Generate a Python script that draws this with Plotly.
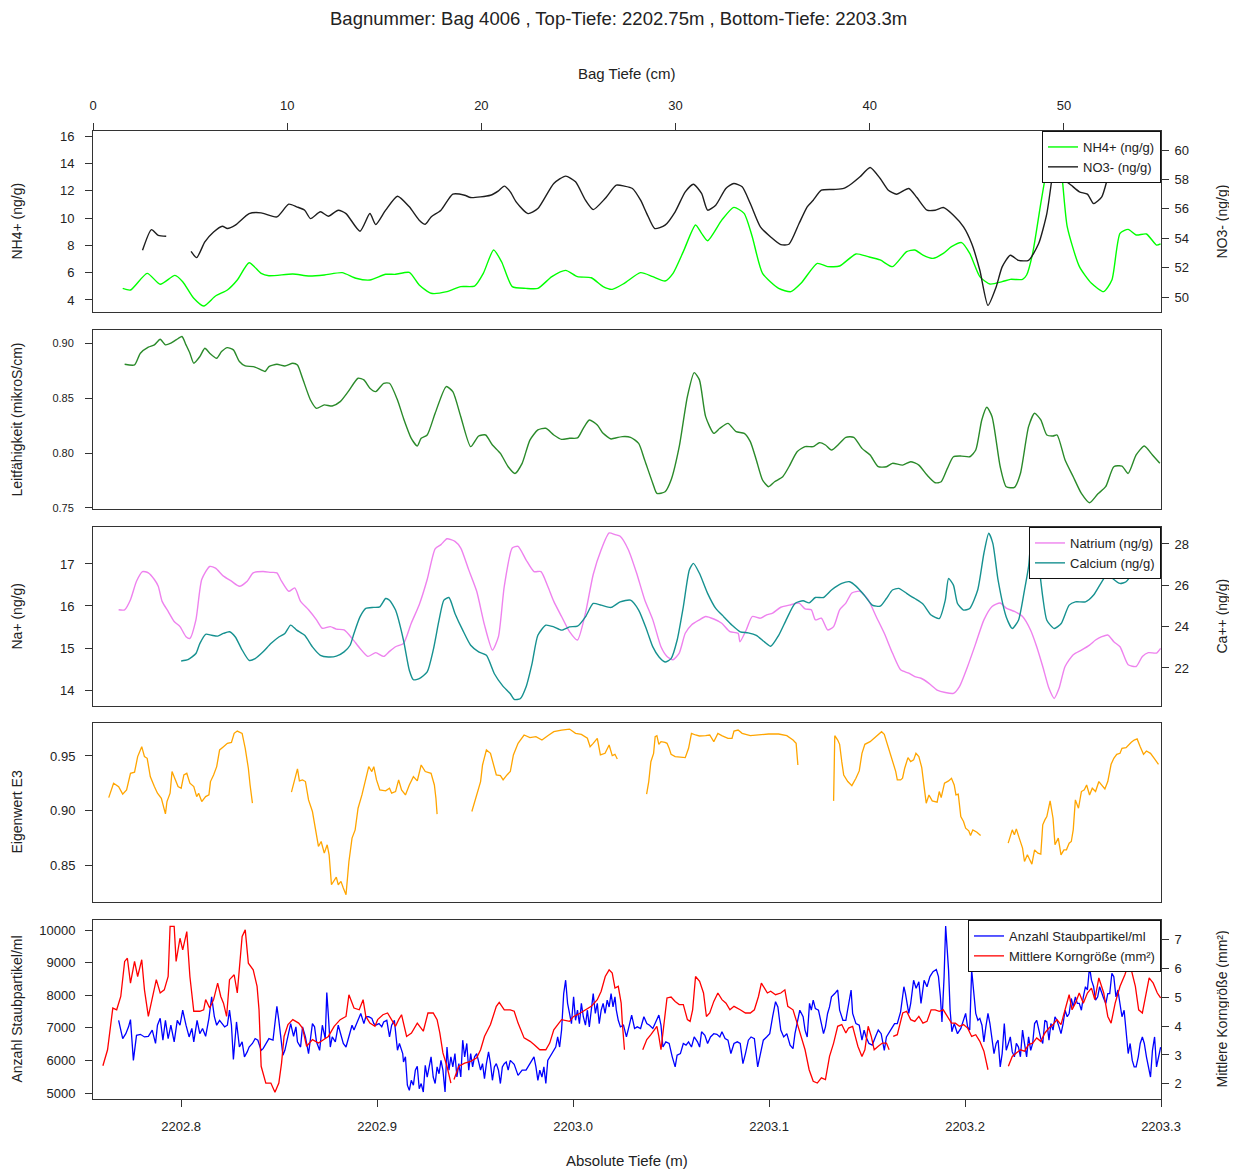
import plotly.graph_objects as go

# Bag 4006 – alle Messreihen ueber Bag-Tiefe (cm)

nh4_cm = [1.53, 1.93, 2.79, 3.46, 4.22, 4.62, 5.19, 5.70, 6.31, 6.92, 7.43, 8.04, 8.66, 9.06, 10.29, 11.10,
          11.91, 12.83, 13.54, 14.26, 15.07, 15.58, 16.29, 16.80, 17.41, 18.23, 18.94, 19.65, 20.10, 20.63,
          21.04, 21.59, 22.30, 22.91, 23.63, 24.34, 24.95, 25.66, 26.27, 26.74, 27.36, 28.20, 28.83, 29.46,
          29.87, 30.40, 31.03, 31.34, 31.65, 32.38, 33.00, 33.53, 33.95, 34.48, 35.31, 35.94, 36.46, 37.30,
          37.83, 38.45, 39.29, 39.92, 40.54, 41.17, 41.90, 42.32, 42.74, 43.26, 43.79, 44.21, 44.73, 45.15,
          45.67, 46.19, 46.82, 47.24, 47.87, 48.08, 48.39, 48.81, 49.12, 49.44, 49.65, 49.86, 50.17, 50.80,
          51.42, 52.05, 52.47, 52.89, 53.31, 53.72, 54.25, 54.77, 54.98]
nh4 = [4.85, 4.73, 5.95, 5.15, 5.80, 5.34, 4.12, 3.56, 4.29, 4.73, 5.46, 6.73, 5.95, 5.78, 5.90, 5.76,
       5.83, 6.00, 5.59, 5.46, 5.88, 5.88, 6.02, 5.10, 4.49, 4.61, 4.98, 5.02, 5.95, 7.66,
       6.80, 4.98, 4.85, 4.85, 5.71, 6.17, 5.71, 5.63, 4.98, 4.78, 5.22, 6.00, 5.71, 5.39,
       5.95, 7.54, 9.49, 8.88, 8.34, 9.85, 10.78, 10.34, 8.63, 5.95, 4.85, 4.61, 5.22, 6.68,
       6.44, 6.49, 7.37, 7.17, 6.93, 6.44, 7.54, 7.66, 7.29, 7.05, 7.41, 7.90, 8.20, 7.41,
       5.71, 5.17, 5.34, 5.51, 5.51, 5.83, 7.41, 11.07, 13.51, 14.70, 14.50, 13.50, 9.37, 6.44,
       5.22, 4.61, 5.46, 8.88, 9.17, 8.76, 8.83, 8.02, 8.10]

no3_cm = [2.55, 3.01, 3.36, 3.77, None,
          5.05, 5.34, 5.76, 6.21, 6.66, 6.92, 7.33, 8.04, 8.66, 9.47, 10.08, 10.49, 10.90, 11.20, 11.71,
          12.12, 12.63, 13.03, 13.75, 14.26, 14.56, 15.07, 15.68, 16.29, 16.80, 17.11, 17.41, 17.92, 18.53,
          19.14, 19.45, 20.47, 20.88, 21.18, 21.49, 21.79, 22.40, 22.91, 23.73, 24.34, 24.85, 25.36, 25.76,
          26.37, 26.95, 27.36, 27.78, 28.20, 28.52, 28.93, 29.46, 29.98, 30.50, 30.92, 31.34, 31.65, 32.07,
          32.59, 33.00, 33.43, 33.85, 34.37, 34.90, 35.42, 35.84, 36.36, 36.78, 37.09, 37.51, 38.14, 38.66,
          39.08, 39.50, 40.02, 40.54, 40.96, 41.38, 42.01, 42.43, 42.95, 43.37, 43.79, 44.31, 44.83, 45.25,
          45.67, 46.09, 46.51, 46.82, 47.24, 47.66, 48.18, 48.70, 49.12, 49.37, 49.54, 49.75, 49.96, 50.38,
          50.80, 51.21, 51.53, 51.95, 52.22, 52.47, 53.31, 54.98]
no3 = [53.18, 54.59, 54.20, 54.14, None,
       53.11, 52.68, 53.75, 54.43, 54.82, 54.66, 54.89, 55.68, 55.73, 55.45, 56.32, 56.14, 55.91, 55.34, 55.80,
       55.50, 55.91, 55.68, 54.48, 55.68, 54.93, 55.91, 56.86, 56.14, 55.23, 54.95, 55.45, 55.91, 57.00,
       56.93, 56.77, 56.93, 57.23, 57.55, 57.16, 56.48, 55.68, 56.02, 57.73, 58.23, 57.84, 56.59, 55.95,
       56.70, 57.61, 57.55, 57.39, 56.59, 55.68, 54.66, 54.89, 55.80, 57.16, 57.68, 57.05, 55.91, 56.25,
       57.39, 57.73, 57.50, 56.36, 54.77, 54.09, 53.57, 53.59, 55.00, 56.14, 56.59, 57.27, 57.32, 57.39,
       57.73, 58.18, 58.82, 58.07, 57.27, 57.00, 57.39, 56.77, 55.91, 55.91, 56.09, 55.57, 54.77, 53.64,
       51.82, 49.43, 50.68, 52.05, 52.84, 52.50, 52.50, 53.64, 55.68, 57.95, 59.80, 59.30, 58.07, 57.61,
       57.16, 57.00, 56.36, 56.82, 57.95, 59.30, 59.55, 59.77]

cond_cm = [1.63, 2.14, 2.44, 2.85, 3.16, 3.46, 3.73, 4.01, 4.28, 4.58, 4.79, 4.99, 5.19, 5.50, 5.76, 6.01,
           6.37, 6.62, 6.92, 7.23, 7.54, 7.84, 8.25, 8.66, 8.86, 9.06, 9.47, 9.88, 10.29, 10.53, 10.79, 11.20,
           11.51, 11.91, 12.32, 12.73, 13.14, 13.65, 13.95, 14.26, 14.56, 14.97, 15.27, 15.68, 15.99, 16.39,
           16.70, 16.90, 17.21, 17.62, 18.19, 18.53, 18.94, 19.45, 19.86, 20.22, 20.57, 20.98, 21.38, 21.73,
           22.10, 22.50, 22.91, 23.32, 23.73, 24.13, 24.54, 24.95, 25.25, 25.56, 25.97, 26.27, 26.68, 26.84,
           27.26, 27.68, 28.10, 28.41, 28.83, 29.04, 29.46, 29.77, 30.19, 30.61, 30.96, 31.23, 31.55, 31.97,
           32.28, 32.70, 33.12, 33.54, 33.85, 34.16, 34.48, 34.79, 35.10, 35.52, 35.84, 36.26, 36.67, 37.09,
           37.41, 37.72, 38.03, 38.45, 38.77, 39.18, 39.60, 40.02, 40.44, 40.86, 41.17, 41.69, 42.11, 42.53,
           42.95, 43.37, 43.68, 44.00, 44.31, 44.73, 45.15, 45.46, 45.77, 46.03, 46.30, 46.72, 47.03, 47.45,
           47.76, 48.18, 48.49, 48.81, 49.12, 49.44, 49.65, 50.06, 50.48, 50.90, 51.32, 51.74, 52.15, 52.57,
           52.99, 53.31, 53.72, 54.14, 54.56, 54.94]
cond = [0.8808, 0.8802, 0.8909, 0.8964, 0.8985, 0.9036, 0.8985, 0.9000, 0.9030, 0.9061, 0.8985, 0.8909,
        0.8818, 0.8878, 0.8954, 0.8909, 0.8863, 0.8924, 0.8960, 0.8939, 0.8833, 0.8793, 0.8787, 0.8757,
        0.8742, 0.8787, 0.8808, 0.8793, 0.8818, 0.8802, 0.8681, 0.8483, 0.8407, 0.8438, 0.8428, 0.8468,
        0.8559, 0.8681, 0.8666, 0.8590, 0.8559, 0.8635, 0.8635, 0.8483, 0.8316, 0.8134, 0.8064, 0.8134,
        0.8164, 0.8362, 0.8605, 0.8559, 0.8331, 0.8058, 0.8155, 0.8164, 0.8073, 0.7997, 0.7875, 0.7814,
        0.7906, 0.8118, 0.8210, 0.8225, 0.8164, 0.8124, 0.8134, 0.8137, 0.8225, 0.8301, 0.8255, 0.8179,
        0.8128, 0.8134, 0.8149, 0.8143, 0.8088, 0.7936, 0.7723, 0.7632, 0.7647, 0.7754, 0.8058, 0.8514,
        0.8732, 0.8666, 0.8331, 0.8179, 0.8225, 0.8270, 0.8194, 0.8179, 0.8103, 0.7936, 0.7754, 0.7693,
        0.7738, 0.7784, 0.7875, 0.8012, 0.8058, 0.8058, 0.8094, 0.8073, 0.8027, 0.8088, 0.8143, 0.8143,
        0.8042, 0.7982, 0.7875, 0.7875, 0.7906, 0.7890, 0.7921, 0.7890, 0.7799, 0.7729, 0.7738, 0.7860,
        0.7966, 0.7972, 0.7966, 0.8027, 0.8301, 0.8416, 0.8331, 0.7875, 0.7693, 0.7687, 0.7814, 0.8240,
        0.8362, 0.8301, 0.8164, 0.8155, 0.8164, 0.7936, 0.7784, 0.7632, 0.7547, 0.7626, 0.7693, 0.7875,
        0.7881, 0.7814, 0.7982, 0.8064, 0.7982, 0.7906]

na_cm = [1.32, 1.63, 1.93, 2.24, 2.55, 2.85, 3.16, 3.36, 3.56, 3.87, 4.18, 4.48, 4.79, 4.99, 5.30, 5.60,
         6.01, 6.31, 6.72, 7.13, 7.54, 7.94, 8.25, 8.76, 9.16, 9.47, 9.71, 10.08, 10.39, 10.69, 11.10, 11.51,
         11.81, 12.22, 12.53, 12.93, 13.34, 13.75, 14.15, 14.56, 14.97, 15.27, 15.58, 15.99, 16.39, 16.80,
         17.21, 17.62, 17.92, 18.23, 18.64, 18.94, 19.35, 19.76, 20.16, 20.57, 20.88, 21.18, 21.59, 21.89,
         22.30, 22.71, 23.07, 23.42, 23.73, 24.13, 24.54, 24.95, 25.36, 25.76, 26.17, 26.58, 26.88, 27.15,
         27.57, 27.99, 28.41, 28.83, 29.25, 29.56, 29.87, 30.19, 30.50, 30.82, 31.23, 31.55, 31.97, 32.38,
         32.80, 33.22, 33.32, 33.64, 33.95, 34.37, 34.69, 35.00, 35.42, 35.94, 36.36, 36.67, 36.99, 37.20,
         37.51, 37.83, 38.14, 38.45, 38.77, 39.08, 39.50, 39.92, 40.33, 40.75, 41.17, 41.59, 42.01, 42.32,
         42.64, 43.05, 43.47, 43.89, 44.31, 44.62, 45.04, 45.46, 45.88, 46.30, 46.72, 47.03, 47.45, 47.87,
         48.28, 48.60, 48.91, 49.23, 49.50, 49.75, 50.06, 50.48, 50.90, 51.32, 51.63, 51.95, 52.26, 52.57,
         52.89, 53.31, 53.72, 54.04, 54.35, 54.77, 54.98]
na = [15.91, 15.91, 16.15, 16.59, 16.82, 16.79, 16.63, 16.47, 16.11, 15.87, 15.63, 15.51, 15.27, 15.23, 15.67,
      16.63, 16.94, 16.90, 16.71, 16.59, 16.47, 16.59, 16.79, 16.82, 16.80, 16.79, 16.59, 16.35, 16.43, 16.11,
      15.91, 15.67, 15.47, 15.51, 15.45, 15.43, 15.23, 14.99, 14.80, 14.89, 14.80, 14.92, 15.03, 15.11, 15.59,
      16.03, 16.63, 17.36, 17.46, 17.60, 17.54, 17.38, 16.86, 16.35, 15.55, 14.95, 15.27, 16.47, 17.38, 17.42,
      17.10, 16.82, 16.82, 16.47, 16.11, 15.75, 15.39, 15.19, 15.83, 16.75, 17.34, 17.74, 17.70, 17.66,
      17.34, 16.79, 16.15, 15.67, 15.03, 14.80, 14.72, 14.88, 15.35, 15.55, 15.67, 15.75, 15.69, 15.59,
      15.39, 15.35, 15.15, 15.43, 15.75, 15.71, 15.79, 15.83, 15.97, 16.03, 16.07, 15.93, 15.91, 15.67,
      15.71, 15.43, 15.51, 15.91, 16.07, 16.31, 16.35, 16.15, 15.75, 15.35, 14.88, 14.48, 14.40, 14.32,
      14.28, 14.16, 14.00, 13.94, 13.92, 14.08, 14.56, 15.11, 15.67, 15.99, 16.07, 15.95, 15.87, 15.75,
      15.43, 15.03, 14.56, 14.04, 13.80, 14.04, 14.56, 14.84, 14.95, 15.07, 15.19, 15.27, 15.31, 15.15,
      15.03, 14.60, 14.56, 14.80, 14.89, 14.88, 14.99]

ca_cm = [4.54, 4.89, 5.30, 5.50, 5.80, 6.11, 6.42, 6.72, 7.03, 7.33, 7.64, 8.04, 8.35, 8.76, 9.16, 9.57,
         9.88, 10.18, 10.49, 10.90, 11.30, 11.71, 12.12, 12.53, 12.93, 13.24, 13.44, 13.75, 14.05, 14.46,
         14.77, 15.07, 15.27, 15.58, 15.99, 16.29, 16.50, 16.80, 17.21, 17.52, 17.82, 18.07, 18.33, 18.64,
         19.04, 19.45, 19.86, 20.26, 20.67, 21.08, 21.49, 21.69, 22.00, 22.30, 22.61, 22.91, 23.32, 23.73,
         24.13, 24.54, 24.95, 25.36, 25.76, 26.17, 26.68, 27.15, 27.68, 28.10, 28.52, 28.83, 29.15, 29.46,
         29.77, 30.08, 30.40, 30.71, 30.92, 31.23, 31.65, 32.07, 32.49, 32.91, 33.33, 33.74, 34.16, 34.58,
         34.90, 35.31, 35.73, 36.15, 36.57, 36.88, 37.20, 37.62, 38.03, 38.56, 38.97, 39.29, 39.71, 40.13,
         40.54, 40.86, 41.17, 41.49, 41.90, 42.32, 42.74, 43.16, 43.58, 43.89, 44.06, 44.31, 44.52, 44.83,
         45.15, 45.56, 45.88, 46.13, 46.34, 46.61, 47.03, 47.34, 47.66, 47.97, 48.18, 48.33, 48.49, 48.70,
         48.91, 49.12, 49.50, 49.86, 50.27, 50.59, 51.11, 51.53, 51.95, 52.26, 52.51, 52.89, 53.20, 53.52,
         53.72, 54.98]
ca = [22.34, 22.40, 22.70, 23.18, 23.63, 23.58, 23.54, 23.67, 23.75, 23.50, 22.94, 22.37, 22.45, 22.78,
      23.18, 23.50, 23.67, 24.07, 23.83, 23.58, 23.02, 22.61, 22.53, 22.57, 22.78, 23.10, 23.67, 24.47,
      24.88, 24.93, 24.96, 25.36, 25.28, 24.80, 23.34, 21.89, 21.43, 21.48, 21.81, 22.86, 24.31, 25.28,
      25.41, 24.64, 23.83, 23.10, 22.78, 22.61, 21.72, 21.16, 20.75, 20.48, 20.51, 21.08, 22.21, 23.58,
      24.07, 23.99, 23.83, 23.99, 24.02, 24.47, 25.12, 25.04, 24.93, 25.20, 25.28, 24.80, 23.83, 23.02,
      22.53, 22.29, 22.45, 23.34, 24.96, 26.74, 27.06, 26.58, 25.61, 24.88, 24.47, 24.07, 23.75, 23.70,
      23.58, 23.26, 23.05, 23.58, 24.39, 25.12, 25.25, 25.15, 25.41, 25.41, 25.77, 26.09, 26.17, 25.96,
      25.53, 25.04, 24.99, 25.36, 25.77, 25.85, 25.61, 25.36, 25.09, 24.56, 24.39, 25.28, 26.33, 26.01,
      25.12, 24.80, 24.88, 25.77, 27.55, 28.52, 28.03, 26.25, 24.47, 23.91, 24.31, 25.77, 26.90, 28.20,
      28.35, 27.06, 25.44, 24.31, 23.91, 24.15, 25.04, 25.20, 25.20, 25.53, 26.17, 26.58, 26.33, 26.09,
      26.17, 26.58, 27.22, 27.55]

e3_cm = [0.81, 1.06, 1.32, 1.53, 1.73, 1.93, 2.14, 2.30, 2.51, 2.65, 2.79, 2.95, 3.16, 3.32, 3.52, 3.73,
         3.81, 3.97, 4.07, 4.22, 4.38, 4.54, 4.68, 4.83, 4.99, 5.19, 5.34, 5.44, 5.60, 5.80, 5.97, 6.05,
         6.21, 6.37, 6.52, 6.72, 6.92, 7.13, 7.27, 7.43, 7.68, 7.84, 8.00, 8.09, 8.21, None,
         10.22, 10.35, 10.53, 10.63, 10.79, 10.94, 11.10, 11.30, 11.45, 11.61, 11.75, 11.91, 12.06, 12.16,
         12.28, 12.42, 12.53, 12.63, 12.77, 12.89, 13.03, 13.18, 13.34, 13.50, 13.65, 13.85, 14.05, 14.20,
         14.36, 14.46, 14.60, 14.77, 15.07, 15.27, 15.38, 15.58, 15.74, 15.89, 16.09, 16.29, 16.50, 16.70,
         16.90, 17.11, 17.41, 17.58, 17.66, 17.72, None,
         19.51, 19.65, 19.82, 19.96, 20.06, 20.26, 20.47, 20.63, 20.77, 20.98, 21.12, 21.32, 21.49, 21.65,
         21.89, 22.20, 22.50, 22.81, 23.12, 23.42, 23.73, 24.13, 24.54, 24.85, 25.15, 25.46, 25.60, 25.76,
         25.97, 26.13, 26.37, 26.58, 26.74, 26.88, 27.00, None,
         28.51, 28.62, 28.73, 28.87, 28.95, 29.04, 29.14, 29.25, 29.46, 29.56, 29.67, 29.77, 29.98, 30.29,
         30.50, 30.67, 30.82, 31.03, 31.23, 31.55, 31.76, 31.97, 32.18, 32.38, 32.70, 32.91, 33.01, 33.22,
         33.43, 33.85, 34.27, 34.48, 34.79, 35.31, 35.73, 36.05, 36.21, 36.30, None,
         38.14, 38.20, 38.35, 38.45, 38.56, 38.66, 38.87, 39.08, 39.29, 39.46, 39.60, 39.75, 40.02, 40.33,
         40.61, 40.75, 40.96, 41.17, 41.34, 41.42, 41.59, 41.69, 41.80, 41.97, 42.11, 42.26, 42.38, 42.53,
         42.68, 42.80, 42.91, 43.05, 43.22, 43.47, 43.58, 43.68, 43.85, 44.06, 44.21, 44.35, 44.44, 44.56,
         44.69, 44.83, 44.94, 45.10, 45.19, 45.31, 45.52, 45.71, None,
         47.13, 47.34, 47.45, 47.55, 47.70, 47.87, 47.97, 48.12, 48.24, 48.35, 48.49, 48.66, 48.81, 48.91,
         49.02, 49.12, 49.29, 49.44, 49.54, 49.71, 49.85, 50.00, 50.13, 50.27, 50.38, 50.48, 50.59, 50.75,
         50.90, 51.05, 51.17, 51.32, 51.46, 51.63, 51.80, 51.95, 52.11, 52.26, 52.43, 52.57, 52.72, 52.89,
         52.99, 53.20, 53.35, 53.47, 53.62, 53.77, 53.93, 54.10, 54.25, 54.46, 54.67, 54.87]
e3 = [0.9121, 0.9252, 0.9221, 0.9152, 0.9191, 0.9342, 0.9352, 0.9494, 0.9585, 0.9494, 0.9479, 0.9312,
      0.9221, 0.9161, 0.9115, 0.8973, 0.9085, 0.9161, 0.9358, 0.9282, 0.9221, 0.9206, 0.9327, 0.9342,
      0.9252, 0.9221, 0.9130, 0.9161, 0.9085, 0.9130, 0.9145, 0.9267, 0.9327, 0.9403, 0.9555, 0.9585,
      0.9615, 0.9624, 0.9706, 0.9727, 0.9706, 0.9570, 0.9388, 0.9236, 0.9070, None,
      0.9170, 0.9267, 0.9382, 0.9273, 0.9282, 0.9267, 0.9100, 0.8994, 0.8842, 0.8676, 0.8721, 0.8615,
      0.8691, 0.8600, 0.8327, 0.8364, 0.8397, 0.8327, 0.8358, 0.8297, 0.8236, 0.8539, 0.8752, 0.8827,
      0.9024, 0.9145, 0.9297, 0.9403, 0.9358, 0.9403, 0.9282, 0.9191, 0.9182, 0.9206, 0.9161, 0.9176,
      0.9282, 0.9191, 0.9145, 0.9236, 0.9312, 0.9273, 0.9418, 0.9358, 0.9342, 0.9236, 0.9115, 0.8970, None,
      0.8994, 0.9085, 0.9176, 0.9267, 0.9418, 0.9555, 0.9524, 0.9418, 0.9327, 0.9321, 0.9282, 0.9327,
      0.9358, 0.9509, 0.9615, 0.9691, 0.9667, 0.9676, 0.9645, 0.9685, 0.9721, 0.9736, 0.9745, 0.9706,
      0.9697, 0.9661, 0.9585, 0.9615, 0.9661, 0.9509, 0.9524, 0.9600, 0.9503, 0.9515, 0.9473, None,
      0.9152, 0.9267, 0.9448, 0.9524, 0.9676, 0.9685, 0.9606, 0.9630, 0.9624, 0.9615, 0.9570, 0.9515,
      0.9494, 0.9485, 0.9485, 0.9570, 0.9706, 0.9691, 0.9682, 0.9685, 0.9691, 0.9630, 0.9706, 0.9685,
      0.9661, 0.9661, 0.9727, 0.9736, 0.9706, 0.9685, 0.9691, 0.9700, 0.9700, 0.9700, 0.9685, 0.9645,
      0.9615, 0.9418, None,
      0.9091, 0.9685, 0.9645, 0.9606, 0.9448, 0.9327, 0.9267, 0.9230, 0.9297, 0.9364, 0.9524, 0.9606,
      0.9630, 0.9676, 0.9721, 0.9697, 0.9570, 0.9448, 0.9358, 0.9282, 0.9282, 0.9297, 0.9388, 0.9485,
      0.9448, 0.9464, 0.9524, 0.9494, 0.9394, 0.9221, 0.9070, 0.9145, 0.9091, 0.9079, 0.9176, 0.9121,
      0.9252, 0.9273, 0.9297, 0.9236, 0.9145, 0.9152, 0.8948, 0.8903, 0.8842, 0.8818, 0.8776, 0.8827,
      0.8806, 0.8776, None,
      0.8706, 0.8827, 0.8782, 0.8836, 0.8752, 0.8661, 0.8539, 0.8600, 0.8555, 0.8515, 0.8645, 0.8615,
      0.8606, 0.8873, 0.8918, 0.8948, 0.9091, 0.8933, 0.8691, 0.8752, 0.8600, 0.8645, 0.8645, 0.8706,
      0.8721, 0.8827, 0.9100, 0.9024, 0.9176, 0.9191, 0.9236, 0.9145, 0.9206, 0.9176, 0.9267, 0.9230,
      0.9200, 0.9267, 0.9424, 0.9479, 0.9515, 0.9524, 0.9570, 0.9576, 0.9606, 0.9624, 0.9645, 0.9655,
      0.9585, 0.9515, 0.9545, 0.9524, 0.9473, 0.9424]

dust_cm = [1.32, 1.53, 1.69, 1.83, 1.93, 2.08, 2.24, 2.44, 2.65, 2.85, 3.05, 3.22, 3.32, 3.46, 3.60, 3.73,
           3.87, 4.01, 4.18, 4.34, 4.48, 4.62, 4.79, 4.95, 5.09, 5.19, 5.36, 5.50, 5.64, 5.80, 5.97, 6.11,
           6.25, 6.37, 6.52, 6.66, 6.78, 6.92, 7.03, 7.13, 7.23, 7.39, 7.54, 7.68, 7.80, 7.94, 8.04, 8.21,
           8.35, 8.49, 8.66, 8.76, 8.90, 9.06, 9.27, 9.47, 9.57, 9.67, 9.78, 9.88, 10.04, 10.18, 10.33,
           10.45, 10.53, 10.69, 10.79, 10.94, 11.10, 11.30, 11.41, 11.51, 11.67, 11.81, 11.96, 12.04, 12.12,
           12.22, 12.32, 12.48, 12.63, 12.77, 12.89, 13.03, 13.18, 13.34, 13.44, 13.65, 13.79, 13.95, 14.05,
           14.20, 14.36, 14.46, 14.56, 14.73, 14.87, 14.97, 15.13, 15.27, 15.38, 15.52, 15.68, 15.78, 15.95,
           15.99, 16.09, 16.19, 16.29, 16.39, 16.50, 16.60, 16.70, 16.80, 16.90, 17.01, 17.11, 17.21, 17.31,
           17.41, 17.52, 17.62, 17.72, 17.82, 17.92, 18.02, 18.13, 18.23, 18.33, 18.43, 18.53, 18.64, 18.74,
           18.84, 18.94, 19.04, 19.14, 19.25, 19.35, 19.45, 19.55, 19.65, 19.76, 19.86, 19.96, 20.06, 20.16,
           20.26, 20.37, 20.47, 20.57, 20.67, 20.77, 20.88, 20.98, 21.08, 21.18, 21.28, 21.38, 21.49, 21.69,
           21.89, 22.10, 22.30, 22.51, 22.71, 22.81, 22.91, 23.01, 23.12, 23.22, 23.32, 23.42, 23.52, 23.73,
           23.83, 23.93, 24.03, 24.13, 24.24, 24.34, 24.44, 24.54, 24.64, 24.75, 24.85, 24.95, 25.05, 25.15,
           25.25, 25.36, 25.46, 25.56, 25.66, 25.76, 25.87, 25.97, 26.07, 26.17, 26.27, 26.37, 26.48, 26.58,
           26.68, 26.78, 26.88, 26.95, 27.05, 27.16, 27.32, 27.47, 27.62, 27.74, 27.89, 28.03, 28.20, 28.37,
           28.52, 28.66, 28.83, 28.98, 29.14, 29.25, 29.35, 29.50, 29.67, 29.83, 29.98, 30.08, 30.25, 30.40,
           30.54, 30.67, 30.82, 30.96, 31.13, 31.24, 31.34, 31.51, 31.65, 31.80, 31.97, 32.13, 32.28, 32.39,
           32.55, 32.70, 32.85, 33.01, 33.18, 33.33, 33.47, 33.60, 33.75, 33.89, 34.06, 34.23, 34.37, 34.52,
           34.69, 34.85, 35.00, 35.15, 35.27, 35.42, 35.57, 35.73, 35.90, 36.05, 36.15, 36.26, 36.40, 36.57,
           36.67, 36.78, 36.90, 36.99, 37.09, 37.20, 37.36, 37.51, 37.62, 37.72, 37.83, 37.93, 38.03, 38.20,
           38.35, 38.45, 38.62, 38.77, 38.91, 39.04, 39.12, 39.29, 39.46, 39.60, 39.71, 39.81, 39.96, 40.13,
           40.29, 40.44, 40.59, 40.75, 40.86, 41.00, 41.13, 41.28, 41.42, 41.59, 41.76, 41.84, 42.01, 42.11,
           42.26, 42.39, 42.53, 42.64, 42.80, 42.95, 43.10, 43.26, 43.43, 43.54, 43.64, 43.72, 43.83, 43.91,
           44.00, 44.06, 44.14, 44.23, 44.35, 44.52, 44.69, 44.83, 44.94, 45.04, 45.15, 45.25, 45.36, 45.46,
           45.57, 45.67, 45.78, 45.88, 45.98, 46.09, 46.19, 46.30, 46.40, 46.51, 46.61, 46.72, 46.82, 46.93,
           47.03, 47.14, 47.24, 47.34, 47.45, 47.55, 47.66, 47.76, 47.87, 47.97, 48.08, 48.18, 48.29, 48.39,
           48.49, 48.60, 48.70, 48.81, 48.91, 49.02, 49.12, 49.23, 49.33, 49.44, 49.54, 49.64, 49.75, 49.85,
           49.96, 50.06, 50.17, 50.27, 50.38, 50.48, 50.59, 50.69, 50.79, 50.90, 51.00, 51.11, 51.21, 51.32,
           51.42, 51.53, 51.63, 51.74, 51.84, 51.95, 52.05, 52.16, 52.26, 52.36, 52.47, 52.57, 52.68, 52.78,
           52.89, 52.99, 53.10, 53.20, 53.31, 53.41, 53.52, 53.62, 53.72, 53.83, 53.93, 54.04, 54.14, 54.25,
           54.35, 54.46, 54.56, 54.67, 54.77, 54.87, 54.98]
dust = [7230, 6670, 6820, 7030, 7250, 6000, 6770, 6800, 6720, 6740, 6930, 6520, 7080, 7290, 6620, 7230,
        6670, 7080, 6570, 7230, 7080, 7540, 7080, 6720, 6980, 6570, 7230, 6820, 6980, 6740, 7290, 7950,
        7340, 7080, 7230, 7130, 7030, 7080, 7540, 7080, 6030, 7180, 6410, 6570, 6110, 6260, 6410, 6520,
        6670, 6620, 6310, 6360, 6520, 6670, 6620, 7660, 7230, 6800, 6160, 6310, 6770, 7130, 6740,
        7030, 6570, 6410, 7030, 6720, 6210, 7130, 7030, 6570, 6310, 7080, 6670, 8080, 7390,
        6410, 6720, 6570, 7080, 6770, 6520, 6410, 6720, 7080, 6930, 7230, 7440, 7130, 7340,
        7340, 7290, 7130, 7080, 7130, 7030, 7180, 7230, 6720, 7080, 7230, 6310, 6520, 6210,
        5950, 6110, 5240, 5080, 5390, 5240, 5700, 5820, 5130, 5290, 5030, 5850, 5490, 5800,
        6110, 5490, 5290, 5800, 5590, 6000, 5700, 5030, 6410, 5700, 6110, 5800, 6210, 5490,
        5900, 5490, 6620, 6110, 6520, 5700, 6210, 5800, 6110, 6210, 5900, 5700, 5900, 5440,
        5900, 6260, 5900, 5390, 5800, 5900, 5700, 5290, 5800, 5900, 5950, 5700, 6000, 5880,
        5540, 5700, 5700, 5900, 6110, 5800, 5390, 5700, 5490, 5800, 5290, 6000, 6110, 6310,
        6410, 6720, 6410, 6930, 8050, 8460, 7750, 7440, 7130, 7950, 7230, 7540, 7130, 7750,
        7340, 7080, 7540, 7030, 7640, 8050, 7440, 7750, 7130, 7540, 7750, 7440, 7850, 7640,
        8050, 7640, 7950, 7540, 7230, 7030, 7080, 6720, 7080, 7390, 6980, 7030, 6980, 7340,
        7130, 7080, 6980, 7180, 7390, 7080, 6410, 6570, 6520, 6110, 5800, 6160, 6210, 6520,
        6470, 6570, 6410, 6720, 6570, 6410, 6880, 6770, 6520, 6720, 6820, 6800, 6720, 6880,
        6670, 6620, 6210, 6520, 6570, 6520, 5900, 6210, 6620, 6720, 6670, 5800, 6210, 6620,
        6720, 6820, 7340, 7800, 7640, 6930, 6720, 6820, 6470, 6360, 6820, 7130, 7540, 7340,
        6930, 6720, 7750, 7540, 7850, 7590, 7540, 7130, 6820, 7030, 7440, 7640, 7950, 8050,
        8160, 7540, 7230, 7230, 7700, 8160, 7440, 7130, 7080, 6620, 6930, 6720, 6520, 6470,
        6720, 6930, 6820, 6310, 6720, 6880, 6980, 7130, 7130, 7490, 8260, 8050, 7440, 7750,
        8460, 8210, 8410, 7750, 8460, 8260, 8570, 8720, 8790, 8570, 7950, 7180, 8570, 10120,
        9390, 8770, 7540, 6880, 7130, 6820, 6980, 7230, 7440, 7030, 6930, 8770, 8160, 7440,
        7230, 7290, 7080, 6570, 7030, 7440, 7130, 6670, 6210, 6520, 6620, 5800, 6210, 7130,
        6310, 6520, 6720, 6260, 6110, 6520, 6410, 6110, 6930, 6520, 6110, 6720, 6310, 6520,
        7130, 7230, 6930, 6670, 6520, 7230, 7180, 6620, 7130, 6930, 7340, 7230, 7030, 6820,
        7130, 7540, 7340, 7440, 7900, 7640, 7950, 7750, 7750, 7540, 7950, 8260, 8160, 8870,
        8460, 8260, 7850, 7950, 8260, 8050, 7900, 7750, 8050, 8050, 8670, 8570, 7950, 8160,
        7750, 7340, 7540, 6930, 6210, 6520, 6000, 5800, 5800, 6110, 6520, 6720, 6520, 6110,
        5800, 5490, 6310, 6720, 5800, 6110, 6410]

grain_cm = [0.51, 0.75, 1.02, 1.22, 1.43, 1.63, 1.77, 1.93, 2.14, 2.30, 2.51, 2.65, 2.85, 3.05, 3.26, 3.46,
            3.67, 3.87, 3.97, 4.18, 4.28, 4.48, 4.62, 4.83, 4.99, 5.19, 5.50, 5.70, 5.80, 6.01, 6.21, 6.42,
            6.58, 6.72, 6.88, 7.03, 7.27, 7.43, 7.54, 7.68, 7.84, 8.00, 8.25, 8.45, 8.55, 8.66, 8.90, 9.16,
            9.37, 9.57, 9.71, 9.84, 10.04, 10.29, 10.59, 10.79, 11.00, 11.30, 11.61, 11.91, 12.12, 12.42,
            12.73, 13.03, 13.18, 13.44, 13.71, 13.91, 14.05, 14.26, 14.52, 14.66, 14.93, 15.17, 15.38, 15.58,
            15.74, 15.89, 16.15, 16.40, 16.70, 17.01, 17.25, 17.52, 17.72, 17.86, 18.02, 18.23, 18.43, None,
            18.59, 18.84, 19.14, 19.45, 19.76, 19.96, 20.16, 20.47, 20.77, 20.92, 21.18, 21.49, 21.69, 21.89,
            22.20, 22.51, 22.71, 23.01, 23.32, 23.52, 23.73, 23.93, 24.13, 24.54, 24.75, 24.95, 25.36, 25.66,
            25.97, 26.17, 26.38, 26.58, 26.74, 26.88, 27.05, 27.20, 27.26, 27.37, None,
            28.31, 28.52, 28.73, 28.93, 29.04, 29.14, 29.25, 29.35, 29.56, 29.77, 29.98, 30.19, 30.40, 30.61,
            30.75, 30.88, 31.03, 31.24, 31.44, 31.59, 31.76, 31.97, 32.18, 32.39, 32.60, 32.80, 33.01, 33.33,
            33.60, 33.85, 34.06, 34.27, 34.42, 34.58, 34.73, 34.90, 35.15, 35.42, 35.63, 35.78, 36.05, 36.26,
            36.47, 36.67, 36.88, 37.09, 37.30, 37.51, 37.72, 37.93, 38.14, 38.35, 38.56, 38.77, 38.91, 39.12,
            39.39, 39.60, 39.75, 39.92, 40.08, 40.23, 40.44, 40.65, 40.86, 41.00, None,
            41.21, 41.42, 41.70, 41.90, 42.11, 42.32, 42.53, 42.74, 42.95, 43.16, 43.37, 43.58, 43.79, 44.00,
            44.21, 44.41, 44.62, 44.83, 45.04, 45.25, 45.46, 45.67, 45.88, 46.09, None,
            47.14, 47.34, 47.55, 47.76, 47.97, 48.18, 48.39, 48.60, 48.81, 49.02, 49.23, 49.44, 49.64, 49.85,
            50.06, 50.27, 50.42, 50.59, 50.79, 51.00, 51.21, 51.42, 51.59, 51.80, 52.05, 52.26, 52.43, 52.64,
            52.89, 53.14, 53.31, 53.47, 53.68, 53.85, 54.04, 54.25, 54.39, 54.60, 54.81, 54.98]
grain = [2.63, 3.18, 4.62, 4.56, 5.02, 6.23, 6.34, 5.48, 6.23, 5.71, 6.29, 5.25, 4.33, 4.91, 5.60, 5.14,
         5.25, 5.71, 7.44, 7.44, 6.23, 7.03, 6.63, 7.26, 5.71, 4.51, 4.51, 4.56, 4.91, 4.62, 4.91, 5.48,
         5.02, 4.79, 4.33, 5.60, 5.77, 5.14, 6.06, 7.09, 7.32, 6.17, 5.94, 5.37, 4.56, 2.61, 2.03, 2.03,
         1.71, 2.03, 2.72, 3.64, 4.05, 4.22, 4.10, 3.93, 3.30, 3.53, 3.41, 3.53, 3.64, 3.99,
         4.22, 4.33, 5.08, 4.62, 4.56, 4.91, 4.33, 4.10, 3.99, 4.22, 4.39, 4.45, 4.22, 3.99,
         4.22, 4.39, 3.64, 3.76, 4.10, 3.82, 4.45, 4.45, 4.22, 3.76, 3.07, 2.61, 2.03, None,
         2.15, 2.61, 2.72, 2.78, 2.90, 3.18, 3.64, 4.05, 4.68, 4.82, 4.56, 4.56, 4.51, 4.10,
         3.59, 3.47, 3.36, 3.18, 3.18, 3.41, 3.87, 4.05, 4.22, 4.16, 4.33, 4.39, 4.56, 4.68,
         4.91, 5.20, 5.71, 5.94, 5.83, 5.31, 5.37, 4.79, 4.10, 3.18, None,
         3.18, 3.53, 3.70, 3.87, 3.99, 3.64, 3.18, 3.76, 4.97, 5.00, 4.85, 4.74, 4.74, 4.22,
         4.16, 4.56, 5.71, 5.54, 5.14, 4.33, 4.45, 4.85, 5.14, 4.91, 4.79, 4.56, 4.68, 4.56,
         4.45, 4.45, 4.56, 5.02, 5.48, 5.31, 5.14, 5.20, 5.08, 5.14, 5.25, 4.68, 4.56, 4.10,
         3.64, 3.18, 2.49, 2.09, 2.03, 2.21, 2.15, 2.95, 3.41, 3.99, 4.05, 3.76, 3.93, 3.99,
         3.30, 2.95, 3.18, 3.99, 3.64, 3.18, 3.30, 3.41, 3.41, 3.18, None,
         3.64, 3.70, 4.45, 4.51, 4.22, 4.16, 4.33, 4.10, 4.16, 4.56, 4.56, 4.51, 4.56, 4.33,
         4.10, 4.10, 3.99, 4.05, 3.93, 3.64, 3.70, 3.47, 3.13, 2.49, None,
         2.61, 2.95, 3.07, 3.18, 3.13, 3.36, 3.41, 3.59, 3.47, 3.76, 3.93, 4.05, 4.22, 4.05,
         4.56, 5.08, 4.56, 4.79, 5.14, 4.79, 5.14, 5.31, 4.91, 5.66, 5.14, 4.33, 4.10, 4.79,
         5.37, 5.77, 6.11, 5.94, 5.37, 4.56, 4.45, 5.25, 5.66, 5.48, 5.14, 4.97]

bag_ticks = [0, 10, 20, 30, 40, 50]
abs_ticks = [2202.8, 2202.9, 2203.0, 2203.1, 2203.2, 2203.3]
count_ticks = [5000, 6000, 7000, 8000, 9000, 10000]

FONT = 'Arial, Liberation Sans, sans-serif'
INK = '#222222'
LINE = '#333333'

# Panel-Bereiche (paper-Koordinaten)
d1 = [0.813, 1.0]
d2 = [0.6095, 0.7944]
d3 = [0.406, 0.5909]
d4 = [0.2035, 0.3884]
d5 = [0.0, 0.1849]

fig = go.Figure()

def line(x, y, name, color, xa, ya, leg=None, width=1.4, smooth=True):
    ln = dict(color=color, width=width)
    if smooth:
        ln.update(shape='spline', smoothing=0.6)
    fig.add_trace(go.Scatter(x=x, y=y, mode='lines', name=name, line=ln, xaxis=xa, yaxis=ya,
                             showlegend=leg is not None, legend=leg or 'legend', hoverinfo='skip'))

line(nh4_cm, nh4, 'NH4+ (ng/g)', '#00ff00', 'x', 'y', 'legend')
line(no3_cm, no3, 'NO3- (ng/g)', '#1e1e1e', 'x', 'y6', 'legend')
line(cond_cm, cond, 'Leitfähigkeit', '#2a8a2a', 'x2', 'y2')
line(na_cm, na, 'Natrium (ng/g)', '#ee82ee', 'x3', 'y3', 'legend2')
line(ca_cm, ca, 'Calcium (ng/g)', '#169190', 'x3', 'y7', 'legend2')
line(e3_cm, e3, 'Eigenwert E3', '#ffa500', 'x4', 'y4', smooth=False, width=1.3)
line(dust_cm, dust, 'Anzahl Staubpartikel/ml', '#0000ff', 'x5', 'y5', 'legend3', smooth=False, width=1.3)
line(grain_cm, grain, 'Mittlere Korngröße (mm²)', '#ff0000', 'x5', 'y8', 'legend3', smooth=False, width=1.3)
# leere Spur, damit die Achse "Absolute Tiefe" gezeichnet wird
fig.add_trace(go.Scatter(x=[], y=[], xaxis='x6', yaxis='y5', showlegend=False, hoverinfo='skip'))

box = dict(showline=True, linecolor=LINE, linewidth=1, mirror=True, showgrid=False, zeroline=False)
tk = dict(ticks='outside', ticklen=7, tickcolor=LINE, tickfont=dict(family=FONT, size=13, color=INK))
side_ax = dict(showline=True, linecolor=LINE, linewidth=1, showgrid=False, zeroline=False)

def xhidden(anchor):
    return dict(domain=[0, 1], range=[0, 55], anchor=anchor, showticklabels=False, ticks='', **box)

# die Seite hat 8px Rand, darum ist die Figur um 8px kleiner
W, H = 1229, 1161
layout = dict(
    width=W, height=H,
    margin=dict(l=85, r=76, t=123, b=70),
    paper_bgcolor='white', plot_bgcolor='white',
    font=dict(family=FONT, size=13, color=INK),
    xaxis=dict(domain=[0, 1], range=[0, 55], anchor='y', side='top', tickvals=bag_ticks,
               ticklabelstandoff=8, **box, **tk),
    xaxis2=xhidden('y2'), xaxis3=xhidden('y3'), xaxis4=xhidden('y4'), xaxis5=xhidden('y5'),
    xaxis6=dict(overlaying='x5', anchor='y5', side='bottom', range=[2202.755, 2203.3],
                tickvals=abs_ticks, ticktext=['%.1f' % v for v in abs_ticks], ticklabelstandoff=8,
                **side_ax, **tk),
    yaxis=dict(domain=d1, range=[3.12, 16.37], anchor='x', tickvals=[4, 6, 8, 10, 12, 14, 16],
               ticklabelstandoff=8, **box, **tk),
    yaxis6=dict(overlaying='y', side='right', anchor='x', range=[48.98, 61.3],
                tickvals=[50, 52, 54, 56, 58, 60], ticklabelstandoff=3, **side_ax, **tk),
    yaxis2=dict(domain=d2, range=[0.749, 0.912], anchor='x2', tickvals=[0.75, 0.80, 0.85, 0.90],
                ticktext=['0.75', '0.80', '0.85', '0.90'], ticklabelstandoff=9, **box,
                ticks='outside', ticklen=7, tickcolor=LINE, tickfont=dict(family=FONT, size=11, color=INK)),
    yaxis3=dict(domain=d3, range=[13.62, 17.88], anchor='x3', tickvals=[14, 15, 16, 17],
                ticklabelstandoff=8, **box, **tk),
    yaxis7=dict(overlaying='y3', side='right', anchor='x3', range=[20.16, 28.82],
                tickvals=[22, 24, 26, 28], ticklabelstandoff=3, **side_ax, **tk),
    yaxis4=dict(domain=d4, range=[0.817, 0.98], anchor='x4', tickvals=[0.85, 0.90, 0.95],
                ticktext=['0.85', '0.90', '0.95'], ticklabelstandoff=7, **box, **tk),
    yaxis5=dict(domain=d5, range=[4816, 10307], anchor='x5', tickvals=count_ticks,
                ticktext=[str(v) for v in count_ticks], ticklabelstandoff=7, **box, **tk),
    yaxis8=dict(overlaying='y5', side='right', anchor='x5', range=[1.48, 7.66],
                tickvals=[2, 3, 4, 5, 6, 7], ticklabelstandoff=3, **side_ax, **tk),
)

leg = dict(x=1, xanchor='right', yanchor='top', bgcolor='white', bordercolor='#111111', borderwidth=1,
           font=dict(family=FONT, size=13, color=INK), tracegroupgap=0, itemwidth=30)
layout['legend'] = dict(y=d1[1], **leg)
layout['legend2'] = dict(y=d3[1], **leg)
layout['legend3'] = dict(y=d5[1], **leg)

fig.update_layout(**layout)

# Titel und Achsentitel
def title(text, x, y, angle=0, size=14):
    fig.add_annotation(text=text, x=x, y=y, xref='paper', yref='paper', showarrow=False,
                       textangle=angle, xanchor='center', yanchor='middle',
                       font=dict(family=FONT, size=size, color=INK))

title('Bagnummer: Bag 4006 , Top-Tiefe: 2202.75m , Bottom-Tiefe: 2203.3m',
      (618 - 93) / 1068, (1099 - 19) / 968, size=18.5)

left_x = (17 - 93) / 1068
right_x = (1222 - 93) / 1068
title('NH4+ (ng/g)', left_x, sum(d1) / 2, -90)
title('NO3- (ng/g)', right_x, sum(d1) / 2, -90)
title('Leitfähigkeit (mikroS/cm)', left_x, sum(d2) / 2, -90)
title('Na+ (ng/g)', left_x, sum(d3) / 2, -90)
title('Ca++ (ng/g)', right_x, sum(d3) / 2, -90)
title('Eigenwert E3', left_x, sum(d4) / 2, -90)
title('Anzahl Staubpartikel/ml', left_x, sum(d5) / 2, -90)
title('Mittlere Korngröße (mm²)', right_x, sum(d5) / 2, -90)
title('Bag Tiefe (cm)', 0.5, (1099 - 73) / 968, size=15)
title('Absolute Tiefe (m)', 0.5, (1099 - 1160) / 968, size=15)

fig.write_html("out.html")
